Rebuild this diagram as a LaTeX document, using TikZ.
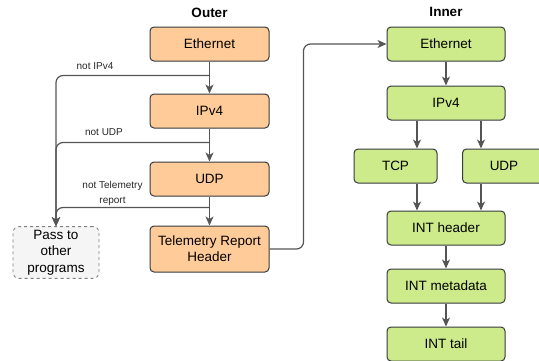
\documentclass[tikz,border=0pt]{standalone}
\usepackage{fontspec}
\setmainfont{Liberation Sans}
\usetikzlibrary{arrows.meta}

\definecolor{outerfill}{HTML}{FFCC99}
\definecolor{innerfill}{HTML}{CDEB8B}
\definecolor{boxline}{HTML}{36393D}
\definecolor{edgegray}{HTML}{555555}
\definecolor{passfill}{HTML}{F5F5F5}

\tikzset{
  outerbox/.style={draw=boxline, fill=outerfill, line width=1pt, rounded corners=4pt,
    minimum width=119pt, minimum height=34pt, align=center,
    font=\fontsize{13.5}{16}\selectfont},
  innerbox/.style={outerbox, fill=innerfill, minimum width=118pt},
  passbox/.style={draw=gray, dashed, fill=passfill, line width=0.8pt, rounded corners=6pt,
    minimum width=86pt, minimum height=51pt, align=center,
    font=\fontsize{13.5}{16.5}\selectfont},
  title/.style={font=\fontsize{13.5}{16}\selectfont\bfseries},
  lbl/.style={font=\fontsize{10}{15}\selectfont, align=center, text=black!85},
  flow/.style={draw=edgegray, line width=1.2pt, rounded corners=7pt,
    -{Stealth[length=9pt,width=8pt,inset=2.5pt]}}
}

\begin{document}
\begin{tikzpicture}[x=1pt, y=-1pt]
      \useasboundingbox (0,0) rectangle (539,360);

      % Outer headers
      \node[title] (outertitle) at (209.5,13) {Outer};
      \node[outerbox] (oeth) at (209.5,44) {Ethernet};
      \node[outerbox] (oip) at (209.5,111) {IPv4};
      \node[outerbox] (oudp) at (209.5,179) {UDP};
      \node[outerbox, minimum height=46pt] (otrh) at (209.5,249) {Telemetry Report\\Header};
      \node[passbox] (pass) at (56,252.5) {Pass to\\other\\programs};

      % Inner headers
      \node[title] (innertitle) at (446,12) {Inner};
      \node[innerbox] (ieth) at (446,44) {Ethernet};
      \node[innerbox] (iip) at (446,103) {IPv4};
      \node[innerbox, minimum width=83pt] (itcp) at (395.5,166) {TCP};
      \node[innerbox, minimum width=83pt] (iudp) at (504,166) {UDP};
      \node[innerbox] (ihdr) at (446,228) {INT header};
      \node[innerbox] (imeta) at (446,286) {INT metadata};
      \node[innerbox] (itail) at (446,344) {INT tail};

      % Outer flow
      \draw[flow] (oeth) -- (oip);
      \draw[flow] (oip) -- (oudp);
      \draw[flow] (oudp) -- (otrh);

      % Branches to the pass box
      \coordinate (split1) at ([yshift=-14pt]oeth.south);
      \coordinate (split2) at ([yshift=-14pt]oip.south);
      \coordinate (split3) at ([yshift=-11pt]oudp.south);
      \draw[flow] (split1) -| (pass.north);
      \draw[flow] (split2) -| (pass.north);
      \draw[flow] (split3) -| (pass.north);
      \node[lbl] (notip) at (95,66) {not IPv4};
      \node[lbl] (notudp) at (104,132) {not UDP};
      \node[lbl] (nottel) at (112.5,193.5) {not Telemetry\\report};

      % Outer to inner
      \draw[flow] (otrh.east) -- ++(34,0) |- (ieth.west);

      % Inner flow
      \draw[flow] (ieth) -- (iip);
      \draw[flow] ([xshift=-29pt]iip.south) -- ([xshift=-29pt]iip.south |- itcp.north);
      \draw[flow] ([xshift=35pt]iip.south) -- ([xshift=35pt]iip.south |- iudp.north);
      \draw[flow] ([xshift=-29pt]ihdr.north |- itcp.south) -- ([xshift=-29pt]ihdr.north);
      \draw[flow] ([xshift=35pt]ihdr.north |- iudp.south) -- ([xshift=35pt]ihdr.north);
      \draw[flow] (ihdr) -- (imeta);
      \draw[flow] (imeta) -- (itail);
\end{tikzpicture}
\end{document}
